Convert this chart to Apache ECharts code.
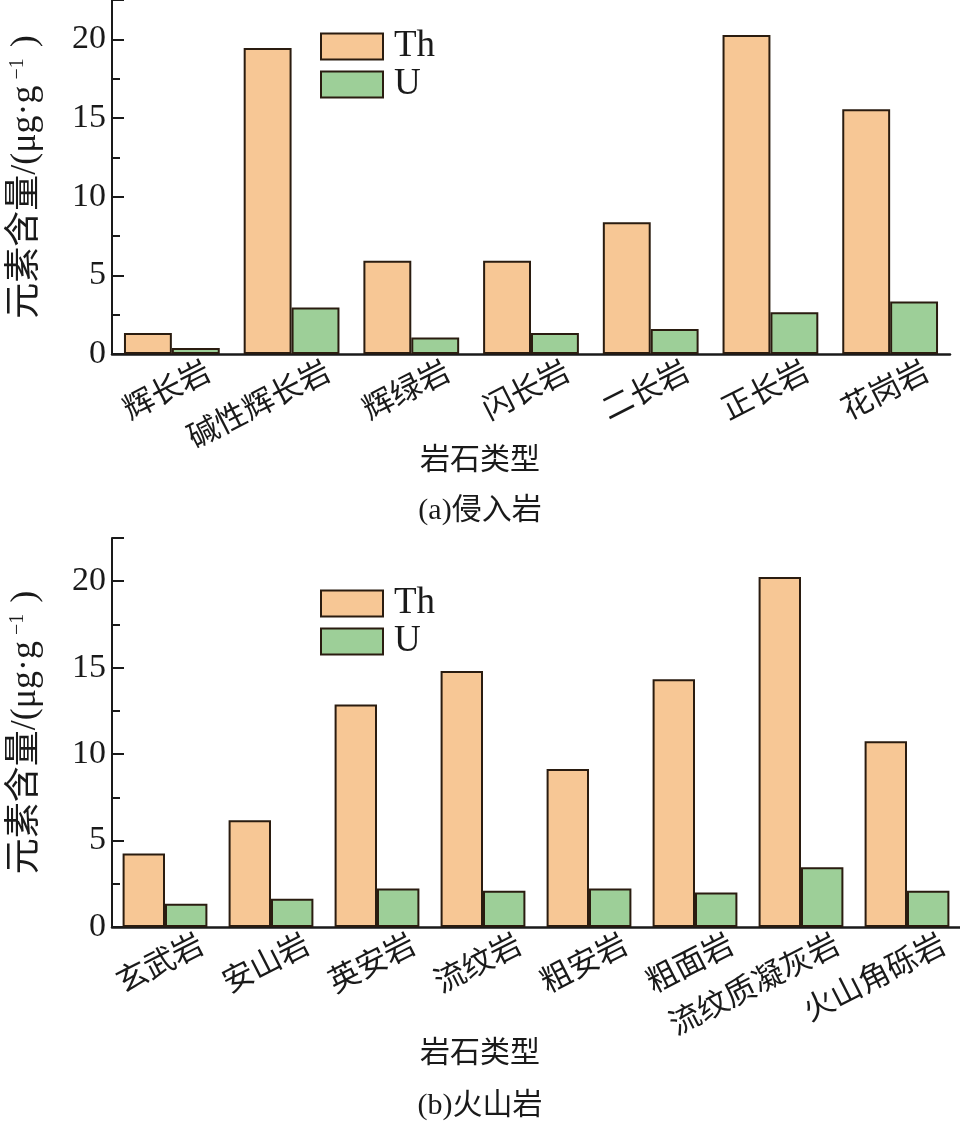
<!DOCTYPE html>
<html>
<head>
<meta charset="utf-8">
<script src="https://cdn.jsdelivr.net/npm/echarts@6/dist/echarts.min.js"></script>
<style>
    html, body {
        margin: 0;
        padding: 0;
        background: #fff;
    }
    #rockChart {
        width: 960px;
        height: 1133px;
    }
</style>
</head>
<body>
<div id="rockChart"></div>
<script>
// (a) 侵入岩
const intrusiveTypes = ["辉长岩", "碱性辉长岩", "辉绿岩", "闪长岩", "二长岩", "正长岩", "花岗岩"];
const intrusiveTh = [1.33, 19.45, 5.92, 5.92, 8.38, 20.28, 15.55];
const intrusiveU = [0.38, 2.96, 1.05, 1.33, 1.59, 2.66, 3.34];

// (b) 火山岩
const volcanicTypes = ["玄武岩", "安山岩", "英安岩", "流纹岩", "粗安岩", "粗面岩", "流纹质凝灰岩", "火山角砾岩"];
const volcanicTh = [4.25, 6.17, 12.87, 14.81, 9.14, 14.33, 20.24, 10.75];
const volcanicU = [1.35, 1.64, 2.22, 2.10, 2.22, 1.99, 3.45, 2.10];

const yTicks = { min: 0, max: 22.5, interval: 5 };

const serif = "'Liberation Serif', 'Noto Sans CJK SC', serif";
const cjk = "'Noto Sans CJK SC', sans-serif";
const ink = "#1a1a1a";
const thColor = "#f7c795";
const uColor = "#9dcf98";
const edge = "#2a1c10";

function makeYAxis(gridIndex) {
    return {
        gridIndex: gridIndex,
        type: "value",
        min: yTicks.min,
        max: yTicks.max,
        interval: yTicks.interval,
        name: "元素含量/(μg·g{sup|−1} )",
        nameLocation: "middle",
        nameRotate: 90,
        nameGap: 68,
        nameTextStyle: {
            fontSize: 36,
            fontFamily: serif,
            color: ink,
            rich: {
                sup: {
                    fontSize: 20,
                    fontFamily: serif,
                    color: ink,
                    verticalAlign: "top",
                    padding: [0, 2, 16, 6],
                },
            },
        },
        axisLine: { show: true, lineStyle: { color: ink, width: 2 } },
        axisTick: { show: true, inside: true, length: 12, lineStyle: { color: ink, width: 2 } },
        minorTick: { show: true, splitNumber: 2, length: 8, lineStyle: { color: ink, width: 2 } },
        splitLine: { show: false },
        axisLabel: {
            fontSize: 34,
            fontFamily: serif,
            color: ink,
            margin: 6,
            showMaxLabel: false,
        },
    };
}

function makeXAxis(gridIndex, data) {
    return {
        gridIndex: gridIndex,
        type: "category",
        data: data,
        axisLine: { show: true, lineStyle: { color: ink, width: 2.5 } },
        axisTick: { show: false },
        axisLabel: {
            interval: 0,
            rotate: 27,
            fontSize: 31,
            fontFamily: cjk,
            color: ink,
            margin: 32,
            padding: [0, -40, 0, 0],
        },
    };
}

function makeBar(name, color, axisIndex, data) {
    return {
        name: name,
        type: "bar",
        xAxisIndex: axisIndex,
        yAxisIndex: axisIndex,
        barGap: "0%",
        barCategoryGap: "20%",
        itemStyle: { color: color, borderColor: edge, borderWidth: 2 },
        data: data,
    };
}

function makeLegend(top) {
    return {
        data: ["Th", "U"],
        orient: "vertical",
        left: 320,
        top: top,
        padding: 0,
        itemWidth: 62,
        itemHeight: 26,
        itemGap: 1,
        icon: "rect",
        textStyle: {
            fontSize: 37,
            fontFamily: serif,
            color: ink,
            padding: [0, 0, 0, 6],
        },
    };
}

function makeTitle(text, top) {
    return {
        text: text,
        left: "center",
        top: top,
        padding: 0,
        textStyle: { fontSize: 30, fontWeight: "normal", fontFamily: serif, color: ink },
    };
}

const chartOption = {
    animation: false,
    backgroundColor: "#fff",
    title: [
        makeTitle("岩石类型", 446),
        makeTitle("(a)侵入岩", 496),
        makeTitle("岩石类型", 1039),
        makeTitle("(b)火山岩", 1091),
    ],
    legend: [makeLegend(28), makeLegend(585)],
    grid: [
        { left: 105, top: 0, width: 845, height: 354 },
        { left: 107, top: 538, width: 853, height: 389 },
    ],
    xAxis: [makeXAxis(0, intrusiveTypes), makeXAxis(1, volcanicTypes)],
    yAxis: [makeYAxis(0), makeYAxis(1)],
    series: [
        makeBar("Th", thColor, 0, intrusiveTh),
        makeBar("U", uColor, 0, intrusiveU),
        makeBar("Th", thColor, 1, volcanicTh),
        makeBar("U", uColor, 1, volcanicU),
    ],
};

let myChart = echarts.init(document.getElementById("rockChart"));
myChart.setOption(chartOption);
window.onresize = () => {
    myChart.resize();
};
</script>
</body>
</html>
